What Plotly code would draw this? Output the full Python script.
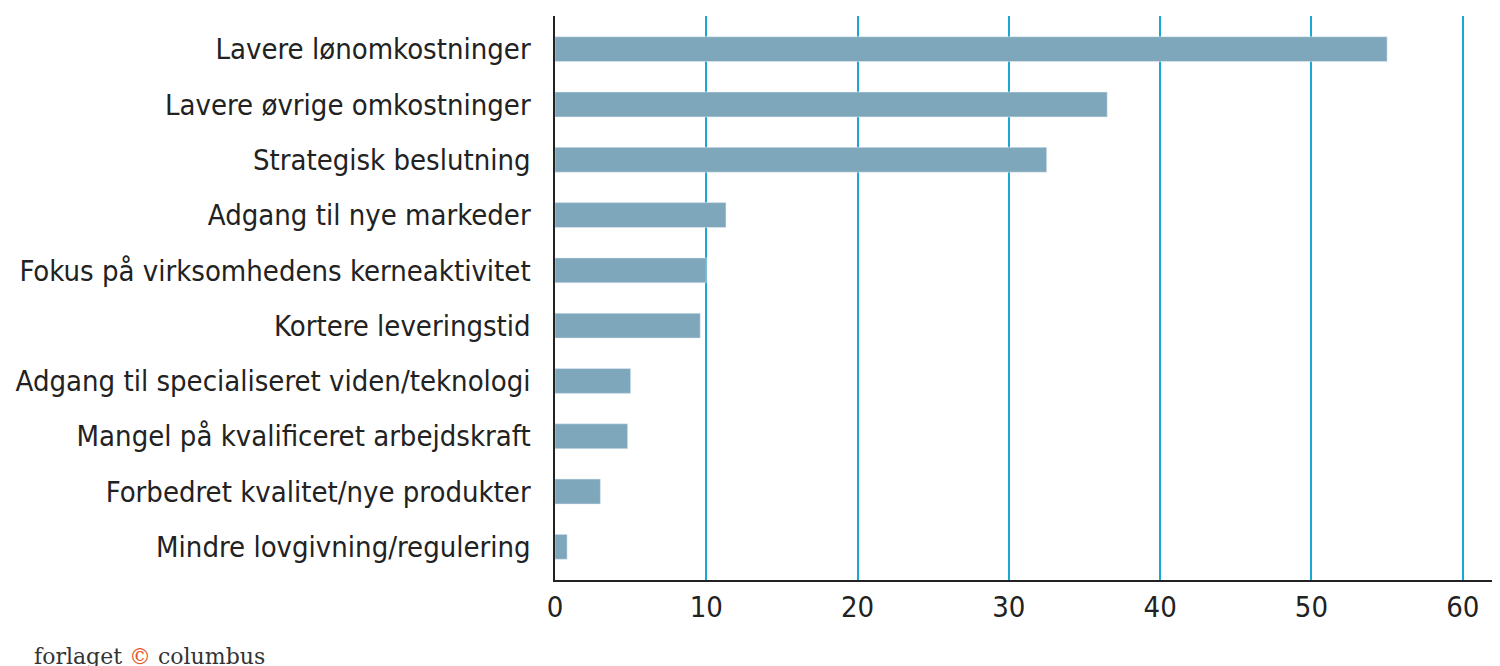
import plotly.graph_objects as go

categories = ["Lavere lønomkostninger", "Lavere øvrige omkostninger", "Strategisk beslutning",
              "Adgang til nye markeder", "Fokus på virksomhedens kerneaktivitet",
              "Kortere leveringstid", "Adgang til specialiseret viden/teknologi",
              "Mangel på kvalificeret arbejdskraft", "Forbedret kvalitet/nye produkter",
              "Mindre lovgivning/regulering"]
values = [55.0, 36.5, 32.5, 11.3, 10.0, 9.6, 5.0, 4.8, 3.0, 0.8]
tickvals = [0, 10, 20, 30, 40, 50, 60]

font = "Liberation Sans Narrow, DejaVu Sans Condensed, sans-serif"
fig = go.Figure(go.Bar(x=values, y=categories, orientation="h", marker_color="#7fa7bb",
                       width=0.45))
fig.update_layout(
    width=1500, height=666, plot_bgcolor="white", paper_bgcolor="white",
    margin=dict(l=530, r=15, t=8, b=94), showlegend=False,
    font=dict(family=font, size=29, color="#222"),
    xaxis=dict(range=[0, 62], tickvals=tickvals, showgrid=True, gridcolor="#1aa7d6",
               gridwidth=2, zeroline=False, showline=True, linecolor="#222", linewidth=2,
               ticks="", ticklen=0),
    yaxis=dict(showline=True, linecolor="#222", linewidth=2,
               ticks="", ticksuffix="  ", autorange=False, range=[9.6, -0.6]),
)
fig.add_annotation(xref="paper", yref="paper", x=-0.558, y=-0.135, xanchor="left", yanchor="middle",
                   text="forlaget <span style='color:#e0582a'>©</span> columbus", showarrow=False,
                   font=dict(family="DejaVu Serif, Liberation Serif, serif", size=22, color="#333"))
fig.write_html("out.html")
